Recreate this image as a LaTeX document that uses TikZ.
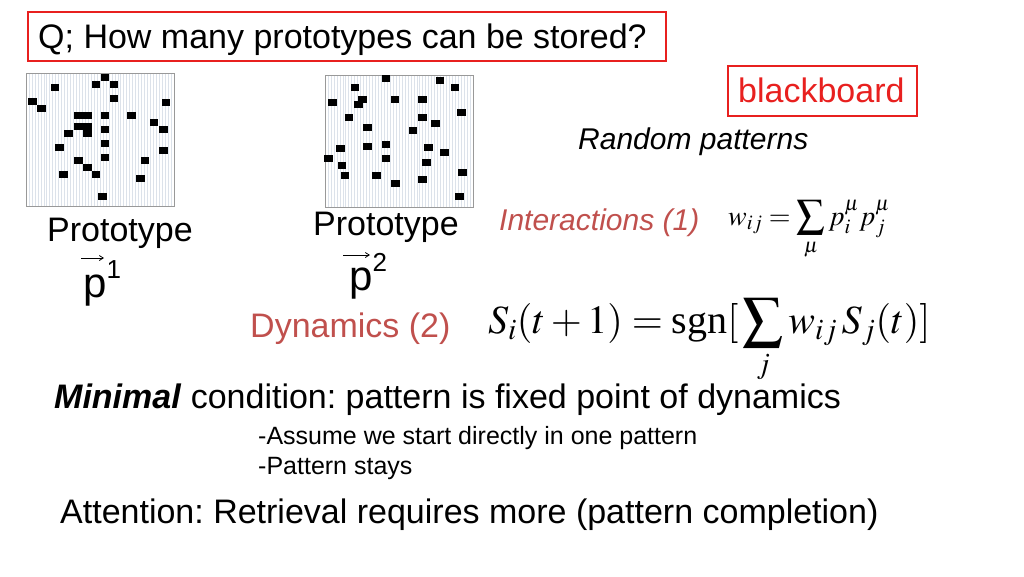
\documentclass[tikz,border=0pt]{standalone}
\usepackage{mathptmx}
\usepackage{amsmath}
\usepackage{fontspec}
\usetikzlibrary{arrows.meta}
\setmainfont{Liberation Sans}
\newfontfamily\serifm{Liberation Serif}
\definecolor{redbox}{HTML}{E8201F}
\definecolor{dyn}{HTML}{C0504D}
\definecolor{gridl}{HTML}{DCE2EA}
\frenchspacing
\begin{document}
\begin{tikzpicture}[x=1pt,y=-1pt,
  txt/.style={inner sep=0pt,anchor=base west},
  vecarrow/.style={line width=0.8pt,-{Straight Barb[length=4pt,width=5pt]}},
  sq/.style={fill=black,minimum width=8.5pt,minimum height=7pt,inner sep=0pt}]
\useasboundingbox (0,0) rectangle (1024,576);
% grid 1
\fill[white] (26,73) rectangle (174,206);
\foreach \i in {0,...,49} \draw[gridl,line width=0.5pt] (26+\i*2.96,73) -- (26+\i*2.96,206);
\draw[gray!80,line width=0.6pt] (26,73) rectangle (174,206);
\foreach \x/\y in {255/27,228/48,282/48,105/58,282/90,37/100,438/102,65/122,175/142,202/142,255/142,335/142,402/162,175/175,202/175,255/185,430/185,145/195,202/195,118/237,255/227,430/247,175/278,255/268,375/278,202/298,130/320,228/320,362/330,248/385}
  \node[sq] at ({20+\x/3},{68+\y/3}) {};
% grid 2
\fill[white] (325,75) rectangle (473,207);
\foreach \i in {0,...,49} \draw[gridl,line width=0.5pt] (325+\i*2.96,75) -- (325+\i*2.96,207);
\draw[gray!80,line width=0.6pt] (325,75) rectangle (473,207);
\foreach \x/\y in {198/30,360/38,105/57,405/57,37/103,127/93,115/110,225/93,307/93,424/132,87/147,307/147,347/167,143/178,279/187,62/240,143/235,198/230,325/237,373/252,25/272,198/272,66/292,319/282,75/323,170/323,428/314,227/346,307/334,418/386}
  \node[sq] at ({320+\x/3},{68+\y/3}) {};
% title
\draw[redbox,line width=1.5pt] (28,12) rectangle (666,61);
\node[txt,font=\fontsize{34}{38}\selectfont] (title) at (38,48) {Q; How many prototypes can be stored?};
\draw[redbox,line width=1.5pt] (728,66) rectangle (917,116);
\node[txt,redbox,font=\fontsize{34}{38}\selectfont] (bb) at (738,102) {blackboard};
\node[txt,font=\itshape\fontsize{30}{34}\selectfont] (rp) at (578,149) {Random patterns};
\node[txt,dyn,font=\itshape\fontsize{30}{34}\selectfont] (int) at (499,230) {Interactions (1)};
\node[txt,font=\fontsize{34}{38}\selectfont] (pt1) at (47,241) {Prototype};
\node[txt,font=\fontsize{34}{38}\selectfont] (pt2) at (313,235) {Prototype};
\node[txt,font=\fontsize{42}{46}\selectfont] (p1) at (83,297) {p\raisebox{0.45em}{\fontsize{26}{28}\selectfont 1}};
\node[txt,font=\fontsize{42}{46}\selectfont] (p2) at (349,290) {p\raisebox{0.45em}{\fontsize{26}{28}\selectfont 2}};
\coordinate (v1a) at (81,258); \coordinate (v1b) at (104,258);
\coordinate (v2a) at (343,255); \coordinate (v2b) at (370,255);
\draw[vecarrow] (v1a) -- (v1b);
\draw[vecarrow] (v2a) -- (v2b);
\node[txt,dyn,font=\fontsize{34}{38}\selectfont] (dyn) at (250,337) {Dynamics (2)};
\node[txt,font=\fontsize{28}{32}\selectfont] (eq1) at (728,225) {$\displaystyle w_{ij}=\sum_{\mu} p_i^{\mu}p_j^{\mu}$};
\node[txt,font=\fontsize{40}{44}\selectfont] (eq2) at (488,333) {$\displaystyle S_i(t+1)=\text{\serifm sgn}[\,\sum_{j} w_{ij}\,S_j(t)]$};
\node[txt,font=\fontsize{34}{38}\selectfont] (min) at (54,408) {\textbf{\textit{Minimal}} condition: pattern is fixed point of dynamics};
\node[txt,font=\fontsize{25}{28}\selectfont] (a1) at (258,444) {-Assume we start directly in one pattern};
\node[txt,font=\fontsize{25}{28}\selectfont] (a2) at (258,474) {-Pattern stays};
\node[txt,font=\fontsize{34}{38}\selectfont] (att) at (60,523) {Attention: Retrieval requires more (pattern completion)};
\end{tikzpicture}
\end{document}
